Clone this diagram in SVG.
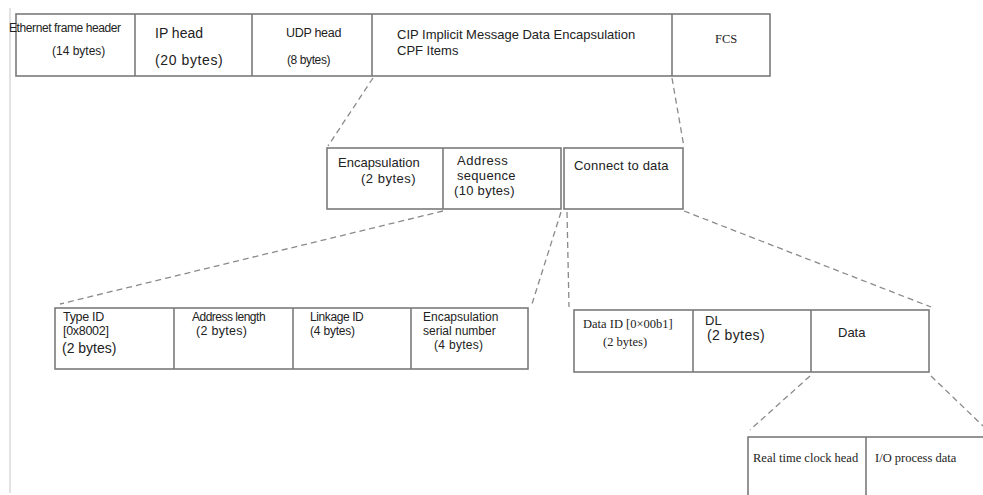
<svg xmlns="http://www.w3.org/2000/svg" width="983" height="495" viewBox="0 0 983 495">
<style>
.box{fill:#fff;stroke:#7a7a7a;stroke-width:1.6}
.div{stroke:#7a7a7a;stroke-width:1.6}
.dash{fill:none;stroke:#8a8a8a;stroke-width:1.3;stroke-dasharray:6 4}
.t{font-family:"Liberation Sans",Arial,sans-serif;fill:#222}
.s{font-family:"Liberation Serif","Times New Roman",serif;fill:#222}
</style>
<rect width="983" height="495" fill="#fff"/>
<line x1="10" y1="8" x2="10" y2="493" stroke="#cfcfcf" stroke-width="1.2"/>
<g id="connectors">
<line class="dash" x1="373" y1="78" x2="328" y2="146"/>
<line class="dash" x1="672" y1="78" x2="684" y2="147"/>
<line class="dash" x1="443" y1="211" x2="60" y2="304"/>
<line class="dash" x1="561" y1="212" x2="532" y2="304"/>
<line class="dash" x1="567" y1="212" x2="569" y2="307"/>
<line class="dash" x1="684" y1="211" x2="931" y2="307"/>
<line class="dash" x1="810" y1="376" x2="750" y2="430"/>
<line class="dash" x1="931" y1="376" x2="983" y2="426"/>
</g>
<g id="top-row">
<rect class="box" x="16" y="14" width="754" height="62"/>
<line class="div" x1="135" y1="14" x2="135" y2="76"/>
<line class="div" x1="252" y1="14" x2="252" y2="76"/>
<line class="div" x1="372" y1="14" x2="372" y2="76"/>
<line class="div" x1="672" y1="14" x2="672" y2="76"/>
</g>
<g id="ethernet-header">
<text class="t" x="9" y="32" font-size="12" letter-spacing="-0.4">Ethernet frame header</text>
<text class="t" x="52" y="55" font-size="12">(14 bytes)</text>
</g>
<g id="ip-head">
<text class="t" x="155" y="38" font-size="14">IP head</text>
<text class="t" x="155" y="65" font-size="14" letter-spacing="0.6">(20 bytes)</text>
</g>
<g id="udp-head">
<text class="t" x="286" y="37" font-size="12.5" letter-spacing="-0.3">UDP head</text>
<text class="t" x="287" y="64" font-size="12" letter-spacing="-0.4">(8 bytes)</text>
</g>
<g id="cip">
<text class="t" x="397" y="39" font-size="13">CIP Implicit Message Data Encapsulation</text>
<text class="t" x="397" y="55" font-size="13">CPF Items</text>
</g>
<g id="fcs">
<text class="s" x="715" y="43" font-size="12.5">FCS</text>
</g>
<g id="middle-row">
<rect class="box" x="327" y="148" width="234" height="61"/>
<line class="div" x1="443" y1="148" x2="443" y2="209"/>
<text class="t" x="338" y="167" font-size="13">Encapsulation</text>
<text class="t" x="361" y="183" font-size="13" letter-spacing="0.5">(2 bytes)</text>
<text class="t" x="457" y="165" font-size="13" letter-spacing="0.5">Address</text>
<text class="t" x="457" y="180" font-size="13" letter-spacing="0.3">sequence</text>
<text class="t" x="454" y="195" font-size="13" letter-spacing="0.3">(10 bytes)</text>
</g>
<g id="connect-to-data">
<rect class="box" x="564" y="148" width="119" height="61"/>
<text class="t" x="574" y="170" font-size="13" letter-spacing="0.2">Connect to data</text>
</g>
<g id="address-items">
<rect class="box" x="55" y="308" width="473" height="61"/>
<line class="div" x1="174" y1="308" x2="174" y2="369"/>
<line class="div" x1="293" y1="308" x2="293" y2="369"/>
<line class="div" x1="411" y1="308" x2="411" y2="369"/>
<text class="t" x="63" y="321" font-size="12.5" letter-spacing="-0.3">Type ID</text>
<text class="t" x="63" y="335" font-size="12.5" letter-spacing="-0.3">[0x8002]</text>
<text class="t" x="62" y="353" font-size="14">(2 bytes)</text>
<text class="t" x="192" y="321" font-size="12" letter-spacing="-0.5">Address length</text>
<text class="t" x="196" y="335" font-size="12.5" letter-spacing="0.3">(2 bytes)</text>
<text class="t" x="310" y="321" font-size="12" letter-spacing="-0.4">Linkage ID</text>
<text class="t" x="310" y="335" font-size="12" letter-spacing="-0.2">(4 bytes)</text>
<text class="t" x="423" y="321" font-size="12">Encapsulation</text>
<text class="t" x="423" y="335" font-size="12">serial number</text>
<text class="t" x="434" y="349" font-size="12" letter-spacing="0.3">(4 bytes)</text>
</g>
<g id="data-items">
<rect class="box" x="574" y="310" width="355" height="62"/>
<line class="div" x1="693" y1="310" x2="693" y2="372"/>
<line class="div" x1="811" y1="310" x2="811" y2="372"/>
<text class="s" x="583" y="328" font-size="12.5">Data ID [0×00b1]</text>
<text class="s" x="603" y="346" font-size="12.5">(2 bytes)</text>
<text class="t" x="705" y="325" font-size="13">DL</text>
<text class="t" x="707" y="340" font-size="14" letter-spacing="0.4">(2 bytes)</text>
<text class="t" x="838" y="337" font-size="13">Data</text>
</g>
<g id="data-detail">
<rect class="box" x="748" y="437" width="240" height="70"/>
<line class="div" x1="866" y1="437" x2="866" y2="495"/>
<text class="s" x="753" y="462" font-size="12.5">Real time clock head</text>
<text class="s" x="875" y="462" font-size="12.5">I/O process data</text>
</g>
</svg>
